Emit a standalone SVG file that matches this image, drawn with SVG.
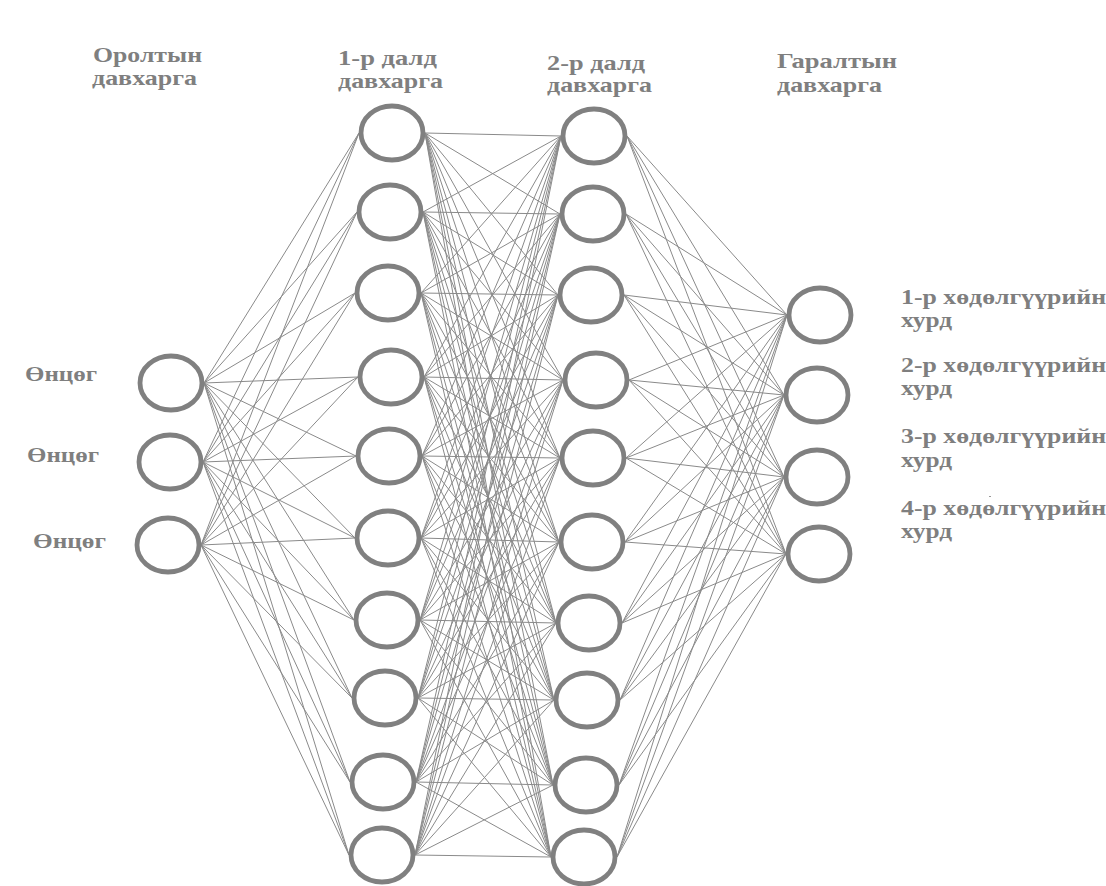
<svg xmlns="http://www.w3.org/2000/svg" width="1106" height="886" viewBox="0 0 1106 886">
<style>
.n{fill:#fff;stroke:#808080;stroke-width:4.8}
.c{fill:none;stroke:#8a8a8a;stroke-width:1}
.t{font-family:"Liberation Serif","DejaVu Serif",serif;font-weight:bold;font-size:21px;fill:#7f7f7f}
</style>
<rect width="1106" height="886" fill="#fff"/>
<g id="connectors">
<path class="c" d="M204 383L359 133M204 383L357 212M204 383L355 293M204 383L358 377M204 383L356 456M204 383L355 538M204 383L354 620M204 383L352 698M204 383L350 782M204 383L349 855"/>
<path class="c" d="M203 462L359 133M203 462L357 212M203 462L355 293M203 462L358 377M203 462L356 456M203 462L355 538M203 462L354 620M203 462L352 698M203 462L350 782M203 462L349 855"/>
<path class="c" d="M201 545L359 133M201 545L357 212M201 545L355 293M201 545L358 377M201 545L356 456M201 545L355 538M201 545L354 620M201 545L352 698M201 545L350 782M201 545L349 855"/>
<path class="c" d="M425 133L561 136M425 133L560 214M425 133L558 295M425 133L563 380M425 133L560 458M425 133L559 542M425 133L556 623M425 133L554 700M425 133L553 785M425 133L551 857"/>
<path class="c" d="M423 212L561 136M423 212L560 214M423 212L558 295M423 212L563 380M423 212L560 458M423 212L559 542M423 212L556 623M423 212L554 700M423 212L553 785M423 212L551 857"/>
<path class="c" d="M421 293L561 136M421 293L560 214M421 293L558 295M421 293L563 380M421 293L560 458M421 293L559 542M421 293L556 623M421 293L554 700M421 293L553 785M421 293L551 857"/>
<path class="c" d="M424 377L561 136M424 377L560 214M424 377L558 295M424 377L563 380M424 377L560 458M424 377L559 542M424 377L556 623M424 377L554 700M424 377L553 785M424 377L551 857"/>
<path class="c" d="M422 456L561 136M422 456L560 214M422 456L558 295M422 456L563 380M422 456L560 458M422 456L559 542M422 456L556 623M422 456L554 700M422 456L553 785M422 456L551 857"/>
<path class="c" d="M421 538L561 136M421 538L560 214M421 538L558 295M421 538L563 380M421 538L560 458M421 538L559 542M421 538L556 623M421 538L554 700M421 538L553 785M421 538L551 857"/>
<path class="c" d="M420 620L561 136M420 620L560 214M420 620L558 295M420 620L563 380M420 620L560 458M420 620L559 542M420 620L556 623M420 620L554 700M420 620L553 785M420 620L551 857"/>
<path class="c" d="M418 698L561 136M418 698L560 214M418 698L558 295M418 698L563 380M418 698L560 458M418 698L559 542M418 698L556 623M418 698L554 700M418 698L553 785M418 698L551 857"/>
<path class="c" d="M416 782L561 136M416 782L560 214M416 782L558 295M416 782L563 380M416 782L560 458M416 782L559 542M416 782L556 623M416 782L554 700M416 782L553 785M416 782L551 857"/>
<path class="c" d="M415 855L561 136M415 855L560 214M415 855L558 295M415 855L563 380M415 855L560 458M415 855L559 542M415 855L556 623M415 855L554 700M415 855L553 785M415 855L551 857"/>
<path class="c" d="M627 136L787 315M627 136L784 395M627 136L784 477M627 136L786 554"/>
<path class="c" d="M626 214L787 315M626 214L784 395M626 214L784 477M626 214L786 554"/>
<path class="c" d="M624 295L787 315M624 295L784 395M624 295L784 477M624 295L786 554"/>
<path class="c" d="M629 380L787 315M629 380L784 395M629 380L784 477M629 380L786 554"/>
<path class="c" d="M626 458L787 315M626 458L784 395M626 458L784 477M626 458L786 554"/>
<path class="c" d="M625 542L787 315M625 542L784 395M625 542L784 477M625 542L786 554"/>
<path class="c" d="M622 623L787 315M622 623L784 395M622 623L784 477M622 623L786 554"/>
<path class="c" d="M620 700L787 315M620 700L784 395M620 700L784 477M620 700L786 554"/>
<path class="c" d="M619 785L787 315M619 785L784 395M619 785L784 477M619 785L786 554"/>
<path class="c" d="M617 857L787 315M617 857L784 395M617 857L784 477M617 857L786 554"/>
</g>
<g id="in1"><ellipse class="n" cx="171" cy="383" rx="31" ry="27"/><text class="t" x="25" y="381" textLength="72" lengthAdjust="spacingAndGlyphs">Өнцөг</text></g>
<g id="in2"><ellipse class="n" cx="170" cy="462" rx="31" ry="27"/><text class="t" x="27" y="462" textLength="72" lengthAdjust="spacingAndGlyphs">Өнцөг</text></g>
<g id="in3"><ellipse class="n" cx="168" cy="545" rx="31" ry="27"/><text class="t" x="33" y="548" textLength="73" lengthAdjust="spacingAndGlyphs">Өнцөг</text></g>
<g id="h1-1"><ellipse class="n" cx="392" cy="133" rx="31" ry="27"/></g>
<g id="h1-2"><ellipse class="n" cx="390" cy="212" rx="31" ry="27"/></g>
<g id="h1-3"><ellipse class="n" cx="388" cy="293" rx="31" ry="27"/></g>
<g id="h1-4"><ellipse class="n" cx="391" cy="377" rx="31" ry="27"/></g>
<g id="h1-5"><ellipse class="n" cx="389" cy="456" rx="31" ry="27"/></g>
<g id="h1-6"><ellipse class="n" cx="388" cy="538" rx="31" ry="27"/></g>
<g id="h1-7"><ellipse class="n" cx="387" cy="620" rx="31" ry="27"/></g>
<g id="h1-8"><ellipse class="n" cx="385" cy="698" rx="31" ry="27"/></g>
<g id="h1-9"><ellipse class="n" cx="383" cy="782" rx="31" ry="27"/></g>
<g id="h1-10"><ellipse class="n" cx="382" cy="855" rx="31" ry="27"/></g>
<g id="h2-1"><ellipse class="n" cx="594" cy="136" rx="31" ry="27"/></g>
<g id="h2-2"><ellipse class="n" cx="593" cy="214" rx="31" ry="27"/></g>
<g id="h2-3"><ellipse class="n" cx="591" cy="295" rx="31" ry="27"/></g>
<g id="h2-4"><ellipse class="n" cx="596" cy="380" rx="31" ry="27"/></g>
<g id="h2-5"><ellipse class="n" cx="593" cy="458" rx="31" ry="27"/></g>
<g id="h2-6"><ellipse class="n" cx="592" cy="542" rx="31" ry="27"/></g>
<g id="h2-7"><ellipse class="n" cx="589" cy="623" rx="31" ry="27"/></g>
<g id="h2-8"><ellipse class="n" cx="587" cy="700" rx="31" ry="27"/></g>
<g id="h2-9"><ellipse class="n" cx="586" cy="785" rx="31" ry="27"/></g>
<g id="h2-10"><ellipse class="n" cx="584" cy="857" rx="31" ry="27"/></g>
<g id="out1"><ellipse class="n" cx="820" cy="315" rx="31" ry="27"/><text class="t" x="901" y="304" textLength="205" lengthAdjust="spacingAndGlyphs">1-р хөдөлгүүрийн</text><text class="t" x="901" y="327" textLength="51" lengthAdjust="spacingAndGlyphs">хурд</text></g>
<g id="out2"><ellipse class="n" cx="817" cy="395" rx="31" ry="27"/><text class="t" x="901" y="372" textLength="205" lengthAdjust="spacingAndGlyphs">2-р хөдөлгүүрийн</text><text class="t" x="901" y="395" textLength="51" lengthAdjust="spacingAndGlyphs">хурд</text></g>
<g id="out3"><ellipse class="n" cx="817" cy="477" rx="31" ry="27"/><text class="t" x="901" y="443" textLength="205" lengthAdjust="spacingAndGlyphs">3-р хөдөлгүүрийн</text><text class="t" x="901" y="467" textLength="51" lengthAdjust="spacingAndGlyphs">хурд</text></g>
<g id="out4"><ellipse class="n" cx="819" cy="554" rx="31" ry="27"/><text class="t" x="901" y="515" textLength="205" lengthAdjust="spacingAndGlyphs">4-р хөдөлгүүрийн</text><text class="t" x="901" y="538" textLength="51" lengthAdjust="spacingAndGlyphs">хурд</text></g>
<g id="titles">
<text class="t" x="93" y="62" textLength="109" lengthAdjust="spacingAndGlyphs">Оролтын</text>
<text class="t" x="92" y="85" textLength="105" lengthAdjust="spacingAndGlyphs">давхарга</text>
<text class="t" x="338" y="65" textLength="99" lengthAdjust="spacingAndGlyphs">1-р далд</text>
<text class="t" x="338" y="88" textLength="105" lengthAdjust="spacingAndGlyphs">давхарга</text>
<text class="t" x="547" y="70" textLength="98" lengthAdjust="spacingAndGlyphs">2-р далд</text>
<text class="t" x="547" y="92" textLength="105" lengthAdjust="spacingAndGlyphs">давхарга</text>
<text class="t" x="777" y="68" textLength="120" lengthAdjust="spacingAndGlyphs">Гаралтын</text>
<text class="t" x="777" y="92" textLength="105" lengthAdjust="spacingAndGlyphs">давхарга</text>
</g>
<rect x="989" y="496" width="2" height="1" fill="#999"/>
</svg>
